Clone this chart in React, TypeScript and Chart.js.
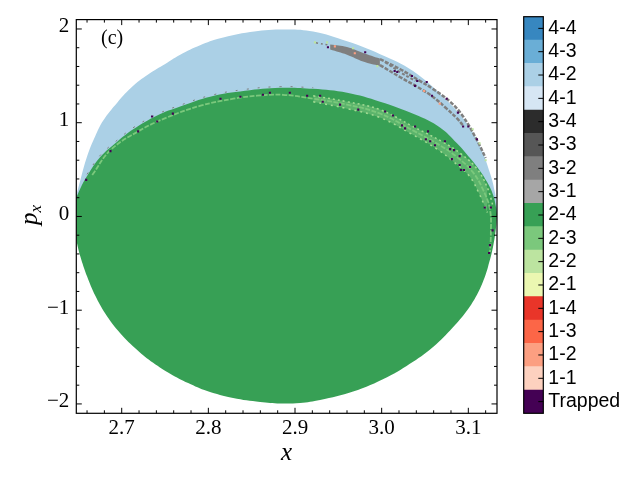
import { useEffect, useRef } from 'react'
import Chart from 'chart.js/auto'

type Pair = [number, number]

const xMin = 2.6476
const xMax = 3.1331
const yMin = -2.1
const yMax = 2.1
const xTicks = [2.7, 2.8, 2.9, 3.0, 3.1]
const yTicks = [-2, -1, 0, 1, 2]
const xMinorTicks = [2.66, 2.68, 2.72, 2.74, 2.76, 2.78, 2.82, 2.84, 2.86, 2.88, 2.92, 2.94, 2.96, 2.98, 3.02, 3.04, 3.06, 3.08, 3.12]
const yMinorTicks = [-1.8, -1.6, -1.4, -1.2, -0.8, -0.6, -0.4, -0.2, 0.2, 0.4, 0.6, 0.8, 1.2, 1.4, 1.6, 1.8]

const outcomeLabels = ['4-4', '4-3', '4-2', '4-1', '3-4', '3-3', '3-2', '3-1', '2-4', '2-3', '2-2', '2-1', '1-4', '1-3', '1-2', '1-1', 'Trapped']
const outcomeColors = ['#3787c0', '#6aaed6', '#abd0e6', '#d6e6f4', '#2c2c2c', '#565656', '#7f7f7f', '#a6a6a6', '#37a055', '#7bc87c', '#bce4a0', '#ebf7b1', '#e93529', '#fc6647', '#fc9f81', '#fdd1bf', '#440154']
const barValues = outcomeLabels.map(() => 1)

const blueEdge: Pair[] = [
  [2.6476, 0.222], [2.6521, 0.38], [2.6602, 0.644], [2.6694, 0.855], [2.6787, 1.024], [2.6948, 1.214], [2.7133, 1.393],
  [2.7329, 1.53], [2.7525, 1.641], [2.7675, 1.726], [2.7905, 1.826], [2.8136, 1.9], [2.8482, 1.968], [2.8828, 1.995],
  [2.9209, 1.974], [2.9601, 1.868], [2.9982, 1.731], [3.0362, 1.551], [3.0755, 1.235], [3.0985, 0.992], [3.1135, 0.749],
  [3.125, 0.464], [3.1308, 0.253], [3.1331, 0.095],
]
const greenTop: Pair[] = [
  [2.6476, 0.2], [2.6521, 0.296], [2.6602, 0.433], [2.6752, 0.633], [2.6948, 0.797], [2.7133, 0.929], [2.7409, 1.077],
  [2.7675, 1.172], [2.8021, 1.277], [2.8424, 1.34], [2.8828, 1.372], [2.9209, 1.361], [2.9601, 1.319], [2.9982, 1.224],
  [3.0385, 1.087], [3.0673, 0.95], [3.0869, 0.781], [3.1019, 0.623], [3.1135, 0.486], [3.1215, 0.369], [3.1285, 0.232],
  [3.132, 0.095], [3.1331, 0.021],
]
const greenBottom: Pair[] = [
  [2.6476, -0.253], [2.6521, -0.422], [2.6602, -0.644], [2.6694, -0.844], [2.681, -1.034], [2.6983, -1.245], [2.7179, -1.425],
  [2.7363, -1.562], [2.7559, -1.678], [2.7767, -1.778], [2.7986, -1.863], [2.8286, -1.937], [2.8597, -1.979], [2.8828, -1.995],
  [2.9059, -1.989], [2.9289, -1.958], [2.967, -1.868], [3.0062, -1.715], [3.0362, -1.551], [3.0593, -1.393], [3.0823, -1.182],
  [3.0985, -1.003], [3.11, -0.834], [3.1169, -0.697], [3.1227, -0.538], [3.1285, -0.327], [3.132, -0.116], [3.1331, 0.021],
]

const greyBandTop: Pair[] = [[2.9405, 1.835], [2.96, 1.808], [2.9785, 1.745], [2.998, 1.685]]
const greyBandBottom: Pair[] = [[2.9405, 1.78], [2.96, 1.725], [2.9785, 1.653], [2.998, 1.605]]
const greyLeadIn: Pair[] = [[2.924, 1.852], [2.9405, 1.826]]
const greyUpper: Pair[] = [[2.998, 1.678], [3.021, 1.573], [3.044, 1.446], [3.059, 1.361], [3.079, 1.224], [3.094, 1.066], [3.11, 0.813], [3.12, 0.623]]
const greyMiddle: Pair[] = [[3.004, 1.646], [3.021, 1.541], [3.039, 1.446]]
const greyLower: Pair[] = [[2.998, 1.615], [3.021, 1.488], [3.041, 1.383], [3.059, 1.277], [3.075, 1.15], [3.087, 1.045], [3.094, 0.971]]
const greyRim: Pair[] = [
  [2.66, 0.45], [2.675, 0.65], [2.695, 0.815], [2.713, 0.945], [2.741, 1.09], [2.767, 1.185], [2.802, 1.29], [2.842, 1.355],
  [2.883, 1.385], [2.921, 1.374],
]

const stripMiddle: Pair[] = [
  [2.666, 0.443], [2.687, 0.707], [2.721, 0.918], [2.752, 1.055], [2.791, 1.182], [2.829, 1.256], [2.856, 1.288], [2.886, 1.298],
  [2.921, 1.256], [2.96, 1.193], [2.998, 1.098], [3.036, 0.918], [3.067, 0.76], [3.087, 0.633], [3.105, 0.475], [3.117, 0.285],
  [3.125, 0.074], [3.126, -0.2], [3.125, -0.38],
]
const stripUpper: Pair[] = [[2.921, 1.287], [2.96, 1.224], [2.998, 1.14], [3.036, 0.96], [3.071, 0.792], [3.092, 0.665], [3.11, 0.507], [3.122, 0.306], [3.129, 0.095]]
const stripLower: Pair[] = [[2.921, 1.224], [2.96, 1.15], [2.998, 1.055], [3.033, 0.887], [3.064, 0.718], [3.082, 0.591], [3.101, 0.433], [3.112, 0.253], [3.122, 0.042]]

const trappedSpecks: Pair[] = [
  [3.0235, 0.971], [3.027, 0.939], [3.0385, 0.96], [3.0535, 0.908], [3.051, 0.823], [3.056, 0.802], [3.0615, 0.76], [3.073, 0.802],
  [3.079, 0.718], [3.0835, 0.707], [3.09, 0.644], [3.081, 0.612], [3.09, 0.549], [3.102, 0.528], [3.0915, 0.496], [3.095, 0.496],
  [2.894, 1.319], [2.929, 1.288], [2.952, 1.193], [2.973, 1.14], [3.004, 1.119], [3.013, 1.077], [2.938, 1.805], [2.981, 1.752],
  [3.015, 1.551], [3.018, 1.541], [3.035, 1.499], [3.041, 1.446], [3.0385, 1.393], [3.052, 1.435], [3.058, 1.288], [3.075, 1.256],
  [3.088, 1.108], [3.094, 0.96], [3.1, 0.96], [3.11, 0.823], [2.814, 1.256], [2.837, 1.277], [2.863, 1.298], [2.871, 1.319],
  [2.914, 1.288], [2.932, 1.224], [2.687, 0.697], [2.719, 0.908], [2.735, 1.066], [2.741, 1.013], [2.759, 1.097], [2.659, 0.39],
  [3.119, 0.095], [3.126, 0.095], [3.125, -0.306], [3.124, -0.39], [3.128, -0.148],
]
const salmonSpecks: Pair[] = [[2.969, 1.741], [2.946, 1.815], [3.049, 1.34], [3.067, 1.203]]
const paleGreenSpecks: Pair[] = [[2.923, 1.857], [2.937, 1.857], [2.967, 1.794], [2.995, 1.604], [3.105, 0.93], [3.113, 0.78], [3.12, 0.6]]

const toPoints = (pairs: Pair[]) => pairs.map(([x, y]) => ({ x, y }))

const area = (pairs: Pair[], color: string, fill: string | boolean) => ({
  data: toPoints(pairs),
  backgroundColor: color,
  borderWidth: 0,
  pointRadius: 0,
  tension: 0.4,
  fill,
})
const strand = (pairs: Pair[], color: string, width: number, dash: number[]) => ({
  data: toPoints(pairs),
  borderColor: color,
  borderWidth: width,
  borderDash: dash,
  pointRadius: 0,
  tension: 0.4,
  fill: false,
})
const specks = (pairs: Pair[], color: string) => ({
  data: toPoints(pairs),
  showLine: false,
  pointStyle: 'rect',
  pointRadius: 1.5,
  pointBorderWidth: 0,
  pointBackgroundColor: color,
})

// inward ticks on all four sides plus the frame
const frameTicks = {
  id: 'frameTicks',
  afterDatasetsDraw(chart: any) {
    const { ctx, chartArea: a, scales } = chart
    ctx.save()
    ctx.strokeStyle = '#000'
    ctx.lineWidth = 1
    const tick = (x1: number, y1: number, x2: number, y2: number) => {
      ctx.beginPath()
      ctx.moveTo(x1, y1)
      ctx.lineTo(x2, y2)
      ctx.stroke()
    }
    const xMarks = (vals: number[], len: number) => vals.forEach((v) => {
      const px = scales.x.getPixelForValue(v)
      tick(px, a.bottom, px, a.bottom - len)
      tick(px, a.top, px, a.top + len)
    })
    const yMarks = (vals: number[], len: number) => vals.forEach((v) => {
      const py = scales.y.getPixelForValue(v)
      tick(a.left, py, a.left + len, py)
      tick(a.right, py, a.right - len, py)
    })
    xMarks(xTicks, 5.5)
    xMarks(xMinorTicks, 3)
    yMarks(yTicks, 5.5)
    yMarks(yMinorTicks, 3)
    ctx.lineWidth = 1.2
    ctx.strokeRect(a.left, a.top, a.right - a.left, a.bottom - a.top)

    ctx.fillStyle = '#000'
    ctx.textAlign = 'left'
    ctx.textBaseline = 'alphabetic'
    ctx.font = '20px "Liberation Serif"'
    ctx.fillText('(c)', 101, 44)
    ctx.translate(37, 225)
    ctx.rotate(-Math.PI / 2)
    ctx.font = 'italic 25px "Liberation Serif"'
    ctx.fillText('p', 0, 0)
    ctx.font = 'italic 17px "Liberation Serif"'
    ctx.fillText('x', 12.5, 3.5)
    ctx.restore()
  },
}

const barFrame = {
  id: 'barFrame',
  afterDatasetsDraw(chart: any) {
    const { ctx, chartArea: a, scales } = chart
    ctx.save()
    ctx.strokeStyle = '#000'
    ctx.lineWidth = 1
    outcomeLabels.forEach((_, i) => {
      const py = scales.y.getPixelForTick(i)
      ctx.beginPath()
      ctx.moveTo(a.right, py)
      ctx.lineTo(a.right - 5, py)
      ctx.stroke()
    })
    ctx.lineWidth = 1.2
    ctx.strokeRect(a.left, a.top, a.right - a.left, a.bottom - a.top)
    ctx.restore()
  },
}

export default function App() {
  const mainRef = useRef<HTMLCanvasElement>(null)
  const barRef = useRef<HTMLCanvasElement>(null)

  useEffect(() => {
    if (!mainRef.current || !barRef.current) return

    const main = new Chart(mainRef.current, {
      type: 'line',
      plugins: [frameTicks],
      data: {
        datasets: [
          specks(trappedSpecks, '#440154'),
          specks(salmonSpecks, '#fc9f81'),
          specks(paleGreenSpecks, '#bce4a0'),
          strand(greyLeadIn, '#7f7f7f', 1.5, [2, 3]),
          area(greyBandTop, '#7f7f7f', '+1'),
          area(greyBandBottom, 'transparent', false),
          strand(greyUpper, '#7f7f7f', 2.5, [4, 1.5]),
          strand(greyMiddle, '#7f7f7f', 2, [3, 2]),
          strand(greyLower, '#7f7f7f', 2.5, [4, 1.5]),
          strand(stripUpper, '#a5dc94', 1.5, [2, 3]),
          strand(stripLower, '#a5dc94', 1.5, [2, 4]),
          strand(stripMiddle, '#7bc87c', 1.8, [5, 1.5]),
          area(stripUpper, '#5cb46c', '+1'),
          area(stripLower, 'transparent', false),
          strand(greyRim, '#7f7f7f', 1, [2, 9]),
          area(greenTop, '#37a055', '+1'),
          area(greenBottom, 'transparent', false),
          area(blueEdge, '#abd0e6', 'origin'),
        ] as any,
      },
      options: {
        animation: false,
        responsive: false,
        layout: { padding: { top: 15.3, right: 143, left: 0, bottom: 0 } },
        plugins: { legend: { display: false }, tooltip: { enabled: false } },
        scales: {
          x: {
            type: 'linear',
            min: xMin,
            max: xMax,
            grid: { display: false, drawTicks: false },
            border: { display: false },
            afterBuildTicks: (s: any) => { s.ticks = xTicks.map((value) => ({ value })) },
            afterFit: (s: any) => { s.height = 66.7 },
            ticks: {
              padding: 3,
              maxRotation: 0,
              color: '#000',
              font: { family: 'Liberation Serif', size: 21 },
              callback: (v: any) => Number(v).toFixed(1),
            },
            title: {
              display: true,
              text: 'x',
              color: '#000',
              padding: { top: 0, bottom: 12 },
              font: { family: 'Liberation Serif', size: 25, style: 'italic' },
            },
          },
          y: {
            min: yMin,
            max: yMax,
            grid: { display: false, drawTicks: false },
            border: { display: false },
            afterBuildTicks: (s: any) => { s.ticks = yTicks.map((value) => ({ value })) },
            afterFit: (s: any) => { s.width = 76.3 },
            ticks: {
              padding: 7,
              labelOffset: -2,
              color: '#000',
              font: { family: 'Liberation Serif', size: 21 },
              callback: (v: any) => String(v).replace('-', '\u2212'),
            },
          },
        },
      },
    })

    const bar = new Chart(barRef.current, {
      type: 'bar',
      plugins: [barFrame],
      data: {
        labels: outcomeLabels,
        datasets: [
          {
            data: barValues,
            backgroundColor: outcomeColors,
            barPercentage: 1,
            categoryPercentage: 1,
            borderWidth: 0,
          },
        ],
      },
      options: {
        indexAxis: 'y',
        animation: false,
        responsive: false,
        layout: { padding: { top: 15.3, bottom: 66.7, left: 523.7, right: 0 } },
        plugins: { legend: { display: false }, tooltip: { enabled: false } },
        scales: {
          x: { display: false, min: 0, max: 1 },
          y: {
            position: 'right',
            grid: { display: false, drawTicks: false },
            border: { display: false },
            afterFit: (s: any) => { s.width = 96.7 },
            ticks: {
              padding: 5,
              autoSkip: false,
              color: '#000',
              font: { family: 'Liberation Sans', size: 19.5 },
            },
          },
        },
      },
    })

    return () => {
      main.destroy()
      bar.destroy()
    }
  }, [])

  return (
    <div style={{ position: 'fixed', left: 0, top: 0, width: 640, height: 480, background: '#fff' }}>
      <canvas ref={mainRef} width={640} height={480} style={{ position: 'absolute', left: 0, top: 0 }} />
      <canvas ref={barRef} width={640} height={480} style={{ position: 'absolute', left: 0, top: 0 }} />
    </div>
  )
}
